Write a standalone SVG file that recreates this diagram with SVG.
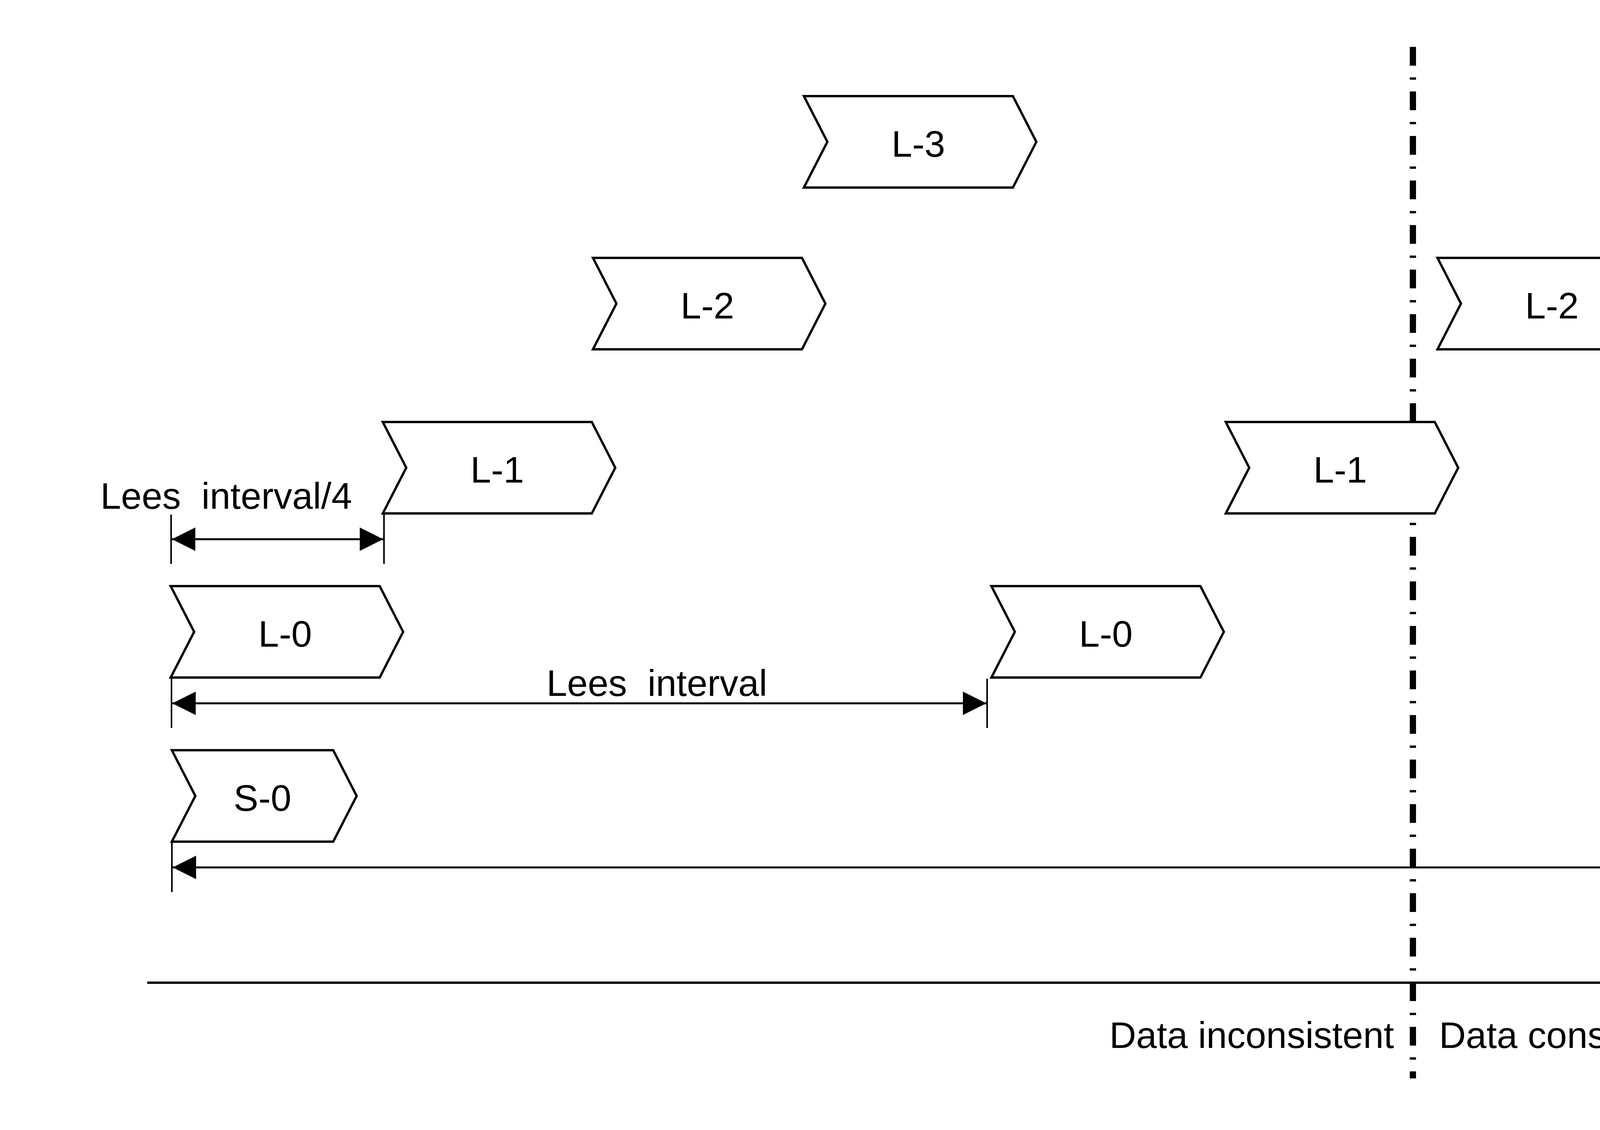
<svg xmlns="http://www.w3.org/2000/svg" width="7788" height="2892" viewBox="0 0 7788 2892">
<style>
text{font-family:"Liberation Sans",Arial,sans-serif;font-size:95px;fill:#000}
.lbl{text-anchor:middle}
.shape{fill:#fff;stroke:#000;stroke-width:6;stroke-linejoin:miter}
.dim{stroke:#000;stroke-width:5;fill:none}
.tick{stroke:#000;stroke-width:4}
</style>
<defs>
<marker id="ah" markerUnits="userSpaceOnUse" markerWidth="60" markerHeight="60" refX="60" refY="30" orient="auto-start-reverse">
<path d="M0,0 L60,30 L0,60 Z" fill="#000"/>
</marker>
<path id="lq" d="M0,0 H535 L595,117 L535,234 H0 L60,117 Z"/>
<path id="sq" d="M0,0 H413 L473,117 L413,234 H0 L60,117 Z"/>
</defs>
<rect width="7788" height="2892" fill="#fff"/>
<g id="connectors">
<line x1="3617" y1="120" x2="3617" y2="2760" stroke="#000" stroke-width="16" stroke-dasharray="48 30 6 30"/>
<line x1="377" y1="2515" x2="7311" y2="2515" stroke="#000" stroke-width="6" marker-end="url(#ah)"/>
<line class="tick" x1="7313" y1="2452" x2="7313" y2="2578"/>
<line class="tick" x1="438" y1="1317" x2="438" y2="1443"/>
<line class="tick" x1="983" y1="1317" x2="983" y2="1443"/>
<line class="dim" x1="440" y1="1380" x2="981" y2="1380" marker-start="url(#ah)" marker-end="url(#ah)"/>
<line class="tick" x1="439" y1="1737" x2="439" y2="1863"/>
<line class="tick" x1="2527" y1="1737" x2="2527" y2="1863"/>
<line class="dim" x1="441" y1="1800" x2="2525" y2="1800" marker-start="url(#ah)" marker-end="url(#ah)"/>
<line class="tick" x1="440" y1="2155" x2="440" y2="2283"/>
<line class="tick" x1="6527" y1="2155" x2="6527" y2="2283"/>
<line class="dim" x1="442" y1="2220" x2="6525" y2="2220" marker-start="url(#ah)" marker-end="url(#ah)"/>
</g>
<g id="labels">
<text x="257" y="1302" xml:space="preserve">Lees  interval/4</text>
<text x="1399" y="1781" xml:space="preserve">Lees  interval</text>
<text x="4216" y="2202">Schrijf interval</text>
<text x="2840" y="2682">Data inconsistent</text>
<text x="3684" y="2682">Data consistent</text>
<text x="7247" y="2622" text-anchor="end">Tijd</text>
</g>
<g id="L3a"><use href="#lq" class="shape" x="2058" y="246"/><text class="lbl" x="2351" y="401">L-3</text></g>
<g id="L2a"><use href="#lq" class="shape" x="1518" y="660"/><text class="lbl" x="1811" y="815">L-2</text></g>
<g id="L1a"><use href="#lq" class="shape" x="980" y="1080"/><text class="lbl" x="1273" y="1235">L-1</text></g>
<g id="L0a"><use href="#lq" class="shape" x="437" y="1500"/><text class="lbl" x="730" y="1655">L-0</text></g>
<g id="S0a"><use href="#sq" class="shape" x="440" y="1920"/><text class="lbl" x="672" y="2075">S-0</text></g>
<g id="L0b"><use href="#lq" class="shape" x="2538" y="1500"/><text class="lbl" x="2831" y="1655">L-0</text></g>
<g id="L1b"><use href="#lq" class="shape" x="3138" y="1080"/><text class="lbl" x="3431" y="1235">L-1</text></g>
<g id="L2b"><use href="#lq" class="shape" x="3680" y="660"/><text class="lbl" x="3973" y="815">L-2</text></g>
<g id="L3b"><use href="#lq" class="shape" x="4219" y="246"/><text class="lbl" x="4512" y="401">L-3</text></g>
<g id="L0c"><use href="#lq" class="shape" x="4700" y="1500"/><text class="lbl" x="4993" y="1655">L-0</text></g>
<g id="L1c"><use href="#lq" class="shape" x="5240" y="1080"/><text class="lbl" x="5533" y="1235">L-1</text></g>
<g id="S0b"><use href="#sq" class="shape" x="6558" y="1920"/><text class="lbl" x="6790" y="2075">S-0</text></g>
<g id="legend">
<rect x="5900" y="120" width="1320" height="900" fill="#fff" stroke="#000" stroke-width="6"/>
<text class="lbl" x="6576" y="282" font-weight="bold">Legende</text>
<use href="#sq" class="shape" x="6317" y="362"/>
<polygon points="6318,600 6377,659 6338,659 6338,780 6299,780 6299,659 6259,659" fill="#fff" stroke="#000" stroke-width="5"/>
<polygon points="6738,600 6797,659 6758,659 6758,780 6719,780 6719,659 6679,659" fill="#fff" stroke="#000" stroke-width="5"/>
<text class="lbl" x="6248" y="882">Start query</text>
<text class="lbl" x="6869" y="882">Einde query</text>
</g>
</svg>
